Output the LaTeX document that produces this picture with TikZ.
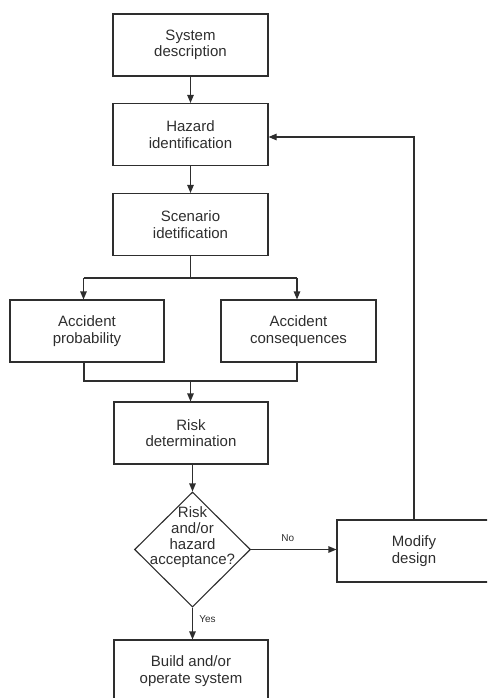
\documentclass[tikz,border=0pt]{standalone}
\usepackage{fontspec}
\setmainfont{Liberation Sans}
\usetikzlibrary{shapes.geometric,arrows.meta,positioning}
\definecolor{ink}{HTML}{2E2E2E}
\begin{document}
\begin{tikzpicture}[x=1pt,y=-1pt,
  every node/.style={text=ink},
  procbox/.style={draw=ink, line width=1.1pt, minimum width=155pt, minimum height=62pt, inner sep=0pt, align=center, font=\fontsize{15}{16.5}\selectfont},
  decision/.style={draw=ink, line width=1.1pt, diamond, minimum width=116pt, minimum height=115pt, inner sep=0pt},
  conn/.style={draw=ink, line width=1.1pt},
  arr/.style={conn, -{Triangle[length=8pt,width=6.5pt]}},
  small/.style={font=\fontsize{10}{12}\selectfont}
]
\path[use as bounding box] (0,0) rectangle (487,698);
\clip (0,0) rectangle (487,698);

\node[procbox] (sys)   at (190.5,45)  {System\\description};
\node[procbox] (haz)   at (190.5,134.5) {Hazard\\identification};
\node[procbox] (scen)  at (190.5,224.5) {Scenario\\idetification};
\node[procbox, minimum width=154pt] (prob)  at (87,331)  {Accident\\probability};
\node[procbox] (cons)  at (298.5,331) {Accident\\consequences};
\node[procbox, minimum width=154pt] (risk)  at (191,433) {Risk\\determination};
\node[decision] (dec) at (192.5,549.5) {};
\node[align=center, inner sep=0pt, font=\fontsize{15}{15.7}\selectfont] (dectext) at (192.5,537.5) {Risk\\and/or\\hazard\\acceptance?};
\node[procbox, minimum width=154pt] (mod)   at (414,551) {Modify\\design};
\node[procbox, minimum width=154pt] (build) at (191,671) {Build and/or\\operate system};

\coordinate (split) at (190.5,278);
\coordinate (splitL) at (83.5,278);
\coordinate (splitR) at (297,278);
\coordinate (merge) at (190.5,381);
\coordinate (mergeL) at (84,381);
\coordinate (mergeR) at (297,381);

\draw[arr] (sys) -- (haz);
\draw[arr] (haz) -- (scen);
\draw[conn] (scen.south) -- (split);
\draw[conn] (splitL) -- (splitR);
\draw[arr] (splitL) -- (prob.north -| splitL);
\draw[arr] (splitR) -- (cons.north -| splitR);
\draw[conn] (prob.south -| mergeL) -- (mergeL) -- (mergeR) -- (cons.south -| mergeR);
\draw[arr] (merge) -- (risk.north -| merge);
\draw[arr] (risk.south -| dec.north) -- (dec.north);
\draw[arr] (dec.east) -- node[small, above=4pt, pos=0.43] (nolab) {No} (mod.west |- dec.east);
\draw[arr] (dec.south) -- node[small, right=3pt, pos=0.35] (yeslab) {Yes} (build.north -| dec.south);
\draw[arr] (mod.north) |- ([yshift=-2.5pt]haz.east);
\end{tikzpicture}
\end{document}
